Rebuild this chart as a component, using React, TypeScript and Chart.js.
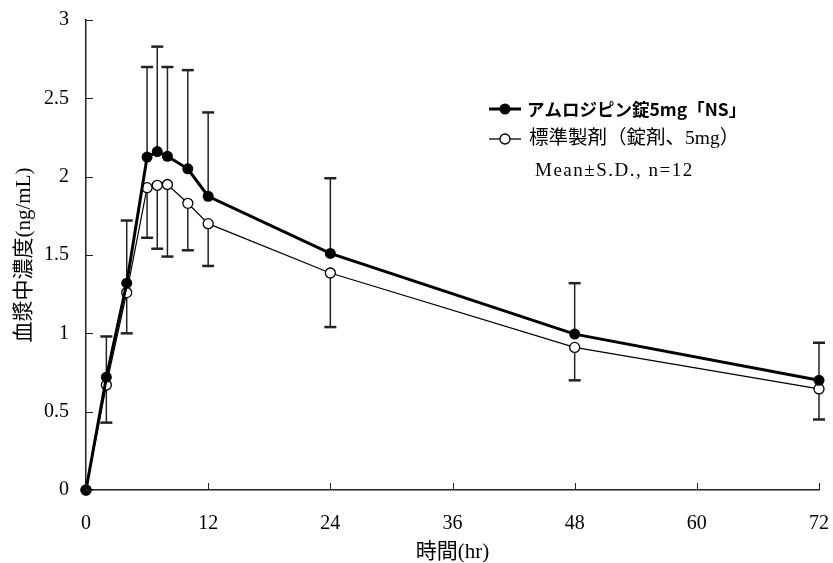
import React, { useEffect, useRef } from 'react';
import { Chart, registerables } from 'chart.js';

Chart.register(...registerables);

const times = [0, 2, 4, 6, 7, 8, 10, 12, 24, 48, 72];
const testMean = [0, 0.72, 1.32, 2.125, 2.16, 2.13, 2.05, 1.875, 1.51, 0.995, 0.7];
const testSD = [0, 0.26, 0.4, 0.575, 0.67, 0.57, 0.63, 0.535, 0.48, 0.325, 0.24];
const refMean = [0, 0.67, 1.26, 1.93, 1.945, 1.95, 1.83, 1.7, 1.385, 0.91, 0.645];
const refSD = [0, 0.24, 0.26, 0.32, 0.405, 0.46, 0.3, 0.27, 0.345, 0.21, 0.195];

const testLabel = 'アムロジピン錠5mg「NS」';
const refLabel = '標準製剤（錠剤、5mg）';
const noteLabel = 'Mean±S.D., n=12';
const xTitle = '時間(hr)';
const yTitle = '血漿中濃度(ng/mL)';

const SERIF = "'Liberation Serif','DejaVu Serif','Noto Sans CJK JP',serif";
const SANS = "'Noto Sans CJK JP','Noto Sans',sans-serif";

const errorBarPlugin = {
  id: 'errorBars',
  beforeDatasetsDraw(chart: any) {
    const { ctx, scales } = chart;
    const xs = scales.x;
    const ys = scales.y;
    ctx.save();
    ctx.strokeStyle = '#222';
    const draw = (mean: number[], sd: number[], dir: number) => {
      for (let i = 0; i < times.length; i++) {
        if (!sd[i]) continue;
        const x = xs.getPixelForValue(times[i]);
        const y0 = ys.getPixelForValue(mean[i]);
        const y1 = ys.getPixelForValue(mean[i] + dir * sd[i]);
        ctx.lineWidth = 1.5;
        ctx.beginPath();
        ctx.moveTo(x, y0);
        ctx.lineTo(x, y1);
        ctx.stroke();
        ctx.lineWidth = 2.5;
        ctx.beginPath();
        ctx.moveTo(x - 6, y1);
        ctx.lineTo(x + 6, y1);
        ctx.stroke();
      }
    };
    draw(testMean, testSD, 1);
    draw(refMean, refSD, -1);
    ctx.restore();
  },
};

const axisTickPlugin = {
  id: 'insideTicks',
  afterDraw(chart: any) {
    const { ctx, scales, chartArea } = chart;
    ctx.save();
    ctx.strokeStyle = '#222';
    ctx.lineWidth = 1;
    scales.x.ticks.forEach((t: any) => {
      const x = Math.round(scales.x.getPixelForValue(t.value)) + 0.5;
      ctx.beginPath();
      ctx.moveTo(x, chartArea.bottom);
      ctx.lineTo(x, chartArea.bottom - 7);
      ctx.stroke();
    });
    scales.y.ticks.forEach((t: any) => {
      const y = Math.round(scales.y.getPixelForValue(t.value)) + 0.5;
      ctx.beginPath();
      ctx.moveTo(chartArea.left, y);
      ctx.lineTo(chartArea.left + 7, y);
      ctx.stroke();
    });
    ctx.restore();
  },
};

const legendPlugin = {
  id: 'customLegend',
  afterDraw(chart: any) {
    const { ctx } = chart;
    ctx.save();
    ctx.textBaseline = 'middle';
    ctx.textAlign = 'left';
    // row 1
    let y = 109;
    ctx.strokeStyle = '#000';
    ctx.lineWidth = 3;
    ctx.beginPath();
    ctx.moveTo(489, y);
    ctx.lineTo(521, y);
    ctx.stroke();
    ctx.fillStyle = '#000';
    ctx.beginPath();
    ctx.arc(505, y, 5.5, 0, Math.PI * 2);
    ctx.fill();
    ctx.font = `bold 17.5px ${SANS}`;
    ctx.fillText(testLabel, 527, y);
    // row 2
    y = 139;
    ctx.lineWidth = 1.3;
    ctx.beginPath();
    ctx.moveTo(489, y);
    ctx.lineTo(521, y);
    ctx.stroke();
    ctx.fillStyle = '#fff';
    ctx.beginPath();
    ctx.arc(505, y, 5, 0, Math.PI * 2);
    ctx.fill();
    ctx.stroke();
    ctx.fillStyle = '#000';
    ctx.font = `19.5px ${SERIF}`;
    ctx.fillText(refLabel, 529, y);
    // row 3
    y = 171;
    ctx.font = `19px ${SERIF}`;
    (ctx as any).letterSpacing = '1.5px';
    ctx.fillText(noteLabel, 535, y);
    ctx.restore();
  },
};

export default function App() {
  const ref = useRef<HTMLCanvasElement>(null);
  useEffect(() => {
    document.body.style.margin = '0';
    const canvas = ref.current!;
    const chart = new Chart(canvas, {
      type: 'line',
      data: {
        datasets: [
          {
            label: testLabel,
            data: times.map((t, i) => ({ x: t, y: testMean[i] })),
            borderColor: '#000',
            backgroundColor: '#000',
            borderWidth: 3,
            pointRadius: 5.5,
            pointBorderWidth: 0,
            pointBackgroundColor: '#000',
            clip: false as any,
          },
          {
            label: refLabel,
            data: times.map((t, i) => ({ x: t, y: refMean[i] })),
            borderColor: '#000',
            backgroundColor: '#fff',
            borderWidth: 1.2,
            pointRadius: 5,
            pointBorderWidth: 1.3,
            pointBackgroundColor: '#fff',
            pointBorderColor: '#000',
            clip: false as any,
          },
        ],
      },
      options: {
        responsive: false,
        animation: false,
        devicePixelRatio: 1,
        layout: { padding: { left: 0, right: 14, top: 20, bottom: 0 } },
        plugins: {
          legend: { display: false },
          tooltip: { enabled: false },
        },
        scales: {
          x: {
            type: 'linear',
            min: 0,
            max: 72,
            ticks: { stepSize: 12, color: '#000', font: { family: SERIF, size: 20 }, padding: 22 },
            grid: { display: false, drawTicks: false },
            border: { display: true, color: '#222', width: 1.5 },
            title: {
              display: true,
              text: xTitle,
              color: '#000',
              font: { family: SERIF, size: 21, lineHeight: 1 },
              padding: 0,
            },
            afterFit(scale: any) {
              scale.height = 73;
              scale.paddingLeft = 0;
              scale.paddingRight = 0;
            },
          },
          y: {
            type: 'linear',
            min: 0,
            max: 3,
            ticks: {
              stepSize: 0.5,
              color: '#000',
              font: { family: SERIF, size: 20 },
              padding: 17,
              callback: (v: any) => String(Number(v)),
            },
            grid: { display: false, drawTicks: false },
            border: { display: true, color: '#222', width: 1.5 },
            title: {
              display: true,
              text: yTitle,
              color: '#000',
              font: { family: SERIF, size: 21, lineHeight: 1 },
              padding: { top: 14, bottom: 0 },
            },
            afterFit(scale: any) {
              scale.width = 86;
              scale.paddingTop = 0;
              scale.paddingBottom = 0;
            },
          },
        },
      },
      plugins: [errorBarPlugin, axisTickPlugin, legendPlugin],
    });
    return () => chart.destroy();
  }, []);
  return (
    <div style={{ width: 833, height: 563, position: 'relative', background: '#fff' }}>
      <canvas ref={ref} width={833} height={563} />
    </div>
  );
}
